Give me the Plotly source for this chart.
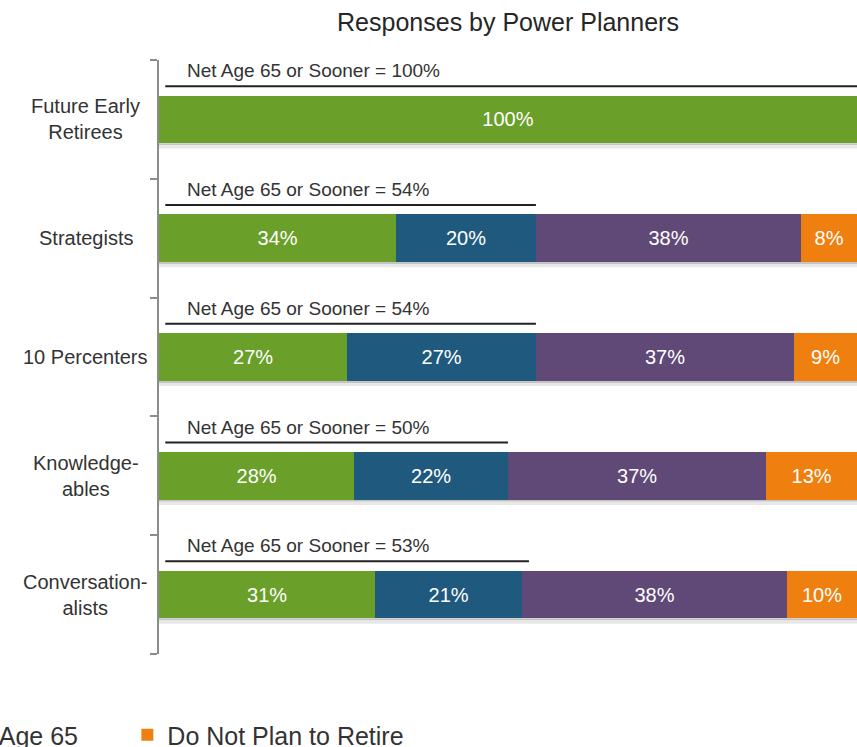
import plotly.graph_objects as go

categories = ['Future Early<br>Retirees', 'Strategists', '10 Percenters', 'Knowledge-<br>ables', 'Conversation-<br>alists']
before_65 = [100, 34, 27, 28, 31]
at_65 = [0, 20, 27, 22, 21]
after_65 = [0, 38, 37, 37, 38]
not_retire = [0, 8, 9, 13, 10]
net_65 = [100, 54, 54, 50, 53]

series = [
    ('Before Age 65', before_65, '#6a9f29', 155),
    ('At Age 65', at_65, '#1f5a7e', 105),
    ('After Age 65', after_65, '#604977', 182),
    ('Do Not Plan to Retire', not_retire, '#ef800f', None),
]

font = 'Liberation Sans'
idx = list(range(len(categories)))
bar_w = 0.4

fig = go.Figure()
for name, vals, color, lw in series:
    fig.add_trace(go.Bar(
        y=idx, x=vals, name=name, orientation='h', width=bar_w,
        marker=dict(color=color, line=dict(width=0)),
        text=[f'{v}%' if v else '' for v in vals],
        textposition='inside', insidetextanchor='middle',
        textfont=dict(color='white', size=20, family=font),
        legendwidth=lw,
        hoverinfo='skip',
    ))

totals = [sum(t) for t in zip(before_65, at_65, after_65, not_retire)]
for i, n in enumerate(net_65):
    # soft shadow under each bar
    fig.add_shape(type='rect', xref='x', yref='y', x0=0, x1=totals[i], y0=i + bar_w / 2, y1=i + bar_w / 2 + 0.018,
                  fillcolor='#c4c4c4', line_width=0, layer='below')
    fig.add_shape(type='rect', xref='x', yref='y', x0=0, x1=totals[i], y0=i + bar_w / 2 + 0.018, y1=i + bar_w / 2 + 0.045,
                  fillcolor='#e8e8e8', line_width=0, layer='below')
    # net line + label
    fig.add_shape(type='line', xref='x', yref='y', x0=0.9, x1=n, y0=i - 0.28, y1=i - 0.28,
                  line=dict(color='#222222', width=2))
    fig.add_annotation(x=3.7, y=i - 0.41, xref='x', yref='y', text=f'Net Age 65 or Sooner = {n}%',
                       showarrow=False, xanchor='left', yanchor='middle',
                       font=dict(size=19, color='#333333', family=font))

# category labels, centered like the original
for i, c in enumerate(categories):
    fig.add_annotation(x=-0.1046, y=i, xref='paper', yref='y', text=c, showarrow=False,
                       xanchor='center', yanchor='middle', align='center',
                       font=dict(size=20, color='#333333', family=font))

fig.update_layout(
    width=857, height=747,
    barmode='stack',
    title=dict(text='Responses by Power Planners', x=508 / 857, xanchor='center',
               y=1 - 22 / 747, yanchor='middle', font=dict(size=25, color='#262626', family=font)),
    margin=dict(l=159, r=0, t=60, b=93, pad=0, autoexpand=False),
    plot_bgcolor='white', paper_bgcolor='white',
    legend=dict(orientation='h', x=-0.872, xanchor='left', y=-0.1364, yanchor='middle',
                font=dict(size=25, color='#333333', family=font), traceorder='normal'),
    xaxis=dict(range=[0, 100], visible=False),
    yaxis=dict(range=[4.5, -0.5], tickmode='array', tickvals=[-0.5, 0.5, 1.5, 2.5, 3.5, 4.5],
               showticklabels=False, showgrid=False, zeroline=False,
               showline=True, linecolor='#8c8c8c', linewidth=2,
               ticks='outside', ticklen=7, tickcolor='#8c8c8c', tickwidth=2),
)

# page margin would shift the fixed-size figure by 8px
fig.write_html('out.html', config={'displayModeBar': False},
               post_script="document.body.style.margin='0';")
